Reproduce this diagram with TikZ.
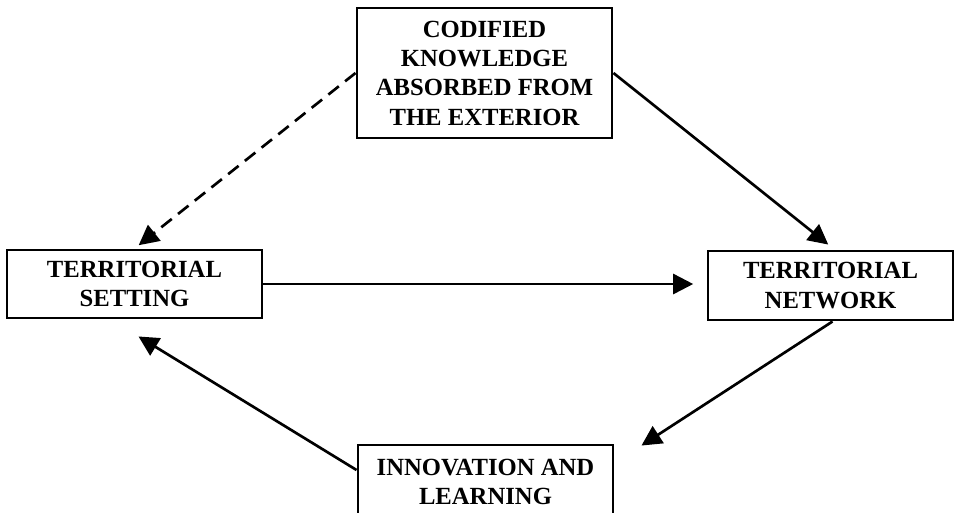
\documentclass[tikz,border=0pt]{standalone}
\usepackage{fontspec}
\setmainfont{Liberation Serif}
\usetikzlibrary{arrows.meta}

\begin{document}
\begin{tikzpicture}[x=0.75pt,y=-0.75pt,
  box/.style={draw,line width=2.2pt,align=center,inner sep=0pt,
    font=\fontsize{18.5}{22}\selectfont\bfseries},
  arrow/.style={line width=2pt,-{Triangle[length=15pt,width=15pt]}}]
\clip (0,0) rectangle (960,512);
\node (codified) at (484.5,73) [box,minimum width=191.25pt,minimum height=97.5pt]
  {CODIFIED\\KNOWLEDGE\\ABSORBED FROM\\THE EXTERIOR};
\node (setting) at (134.5,284) [box,minimum width=191.25pt,minimum height=51pt]
  {TERRITORIAL\\SETTING};
\node (network) at (830.5,285.5) [box,minimum width=183.75pt,minimum height=51.75pt]
  {TERRITORIAL\\NETWORK};
\node (innovation) at (485.5,482) [box,minimum width=191.25pt,minimum height=55.5pt]
  {INNOVATION AND\\LEARNING};
\draw [arrow,dash pattern=on 10pt off 6pt,shorten >=4pt] (codified.west) -- (setting.north);
\draw [arrow,shorten >=6pt] (codified.east) -- ([shift={(4,0)}]network.north);
\draw [arrow,shorten >=10pt] (setting.east) -- (setting.east -| network.west);
\draw [arrow] ([shift={(2,0)}]network.south) -- ([shift={(27,2)}]innovation.north east);
\draw [arrow] ([shift={(0,-12)}]innovation.west) -- ([shift={(4,17)}]setting.south);
\end{tikzpicture}
\end{document}
